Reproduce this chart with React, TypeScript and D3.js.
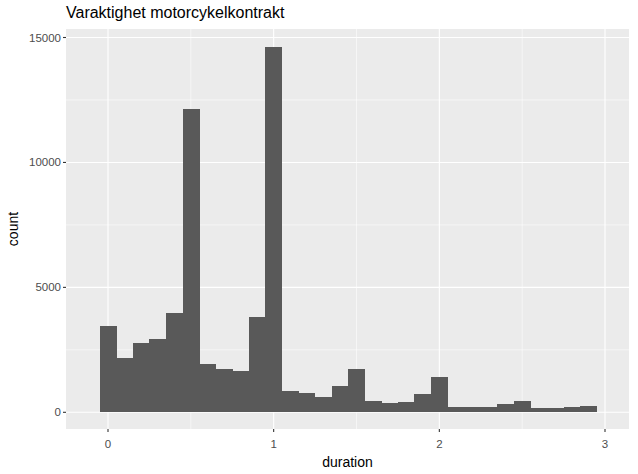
import React from "react";
import * as d3 from "d3";

const binCenters = [0, 0.1, 0.2, 0.3, 0.4, 0.5, 0.6, 0.7, 0.8, 0.9, 1.0, 1.1, 1.2, 1.3, 1.4, 1.5, 1.6, 1.7, 1.8, 1.9, 2.0, 2.1, 2.2, 2.3, 2.4, 2.5, 2.6, 2.7, 2.8, 2.9];
const counts = [3450, 2170, 2790, 2930, 3970, 12130, 1930, 1730, 1650, 3810, 14610, 870, 790, 610, 1050, 1730, 450, 370, 410, 750, 1410, 210, 210, 210, 350, 450, 170, 170, 210, 260];
const binWidth = 0.1;
const xTicks = [0, 1, 2, 3];
const xMinor = [0.5, 1.5, 2.5];
const yTicks = [0, 5000, 10000, 15000];
const yMinor = [2500, 7500, 12500];

const W = 638, H = 474;
const P = { left: 66, right: 629, top: 29, bottom: 429 };

export default function App() {
  const x = d3.scaleLinear().domain([0, 3]).range([108, 605]);
  const y = d3.scaleLinear().domain([0, 15000]).range([412.3, 37.5]);
  const font = "'Liberation Sans', Arial, sans-serif";
  return (
    <svg width={W} height={H} style={{ position: "absolute", left: 0, top: 0, background: "#fff" }} fontFamily={font}>
      <rect x={P.left} y={P.top} width={P.right - P.left} height={P.bottom - P.top} fill="#EBEBEB" />
      {yMinor.map((v) => (
        <line key={"ym" + v} x1={P.left} x2={P.right} y1={y(v)} y2={y(v)} stroke="#fff" strokeWidth={0.55} />
      ))}
      {xMinor.map((v) => (
        <line key={"xm" + v} x1={x(v)} x2={x(v)} y1={P.top} y2={P.bottom} stroke="#fff" strokeWidth={0.55} />
      ))}
      {yTicks.map((v) => (
        <line key={"yg" + v} x1={P.left} x2={P.right} y1={y(v)} y2={y(v)} stroke="#fff" strokeWidth={1.1} />
      ))}
      {xTicks.map((v) => (
        <line key={"xg" + v} x1={x(v)} x2={x(v)} y1={P.top} y2={P.bottom} stroke="#fff" strokeWidth={1.1} />
      ))}
      <g shapeRendering="crispEdges">
        {binCenters.map((c, i) => (
          <rect key={"b" + i} x={x(c - binWidth / 2)} width={x(c + binWidth / 2) - x(c - binWidth / 2) + 0.4} y={y(counts[i])} height={y(0) - y(counts[i])} fill="#595959" />
        ))}
      </g>
      {yTicks.map((v) => (
        <g key={"yt" + v}>
          <line x1={P.left - 3} x2={P.left} y1={y(v)} y2={y(v)} stroke="#333" strokeWidth={1.1} />
          <text x={P.left - 5} y={y(v)} dy="0.35em" textAnchor="end" fontSize={11.5} fill="#4D4D4D">{v}</text>
        </g>
      ))}
      {xTicks.map((v) => (
        <g key={"xt" + v}>
          <line x1={x(v)} x2={x(v)} y1={P.bottom} y2={P.bottom + 3} stroke="#333" strokeWidth={1.1} />
          <text x={x(v)} y={448} textAnchor="middle" fontSize={11.5} fill="#4D4D4D">{v}</text>
        </g>
      ))}
      <text x={(P.left + P.right) / 2} y={467} textAnchor="middle" fontSize={14} fill="#000">duration</text>
      <text transform={`translate(18,${(P.top + P.bottom) / 2}) rotate(-90)`} textAnchor="middle" fontSize={14} fill="#000">count</text>
      <text x={66} y={17.5} fontSize={16} fill="#000">Varaktighet motorcykelkontrakt</text>
    </svg>
  );
}
